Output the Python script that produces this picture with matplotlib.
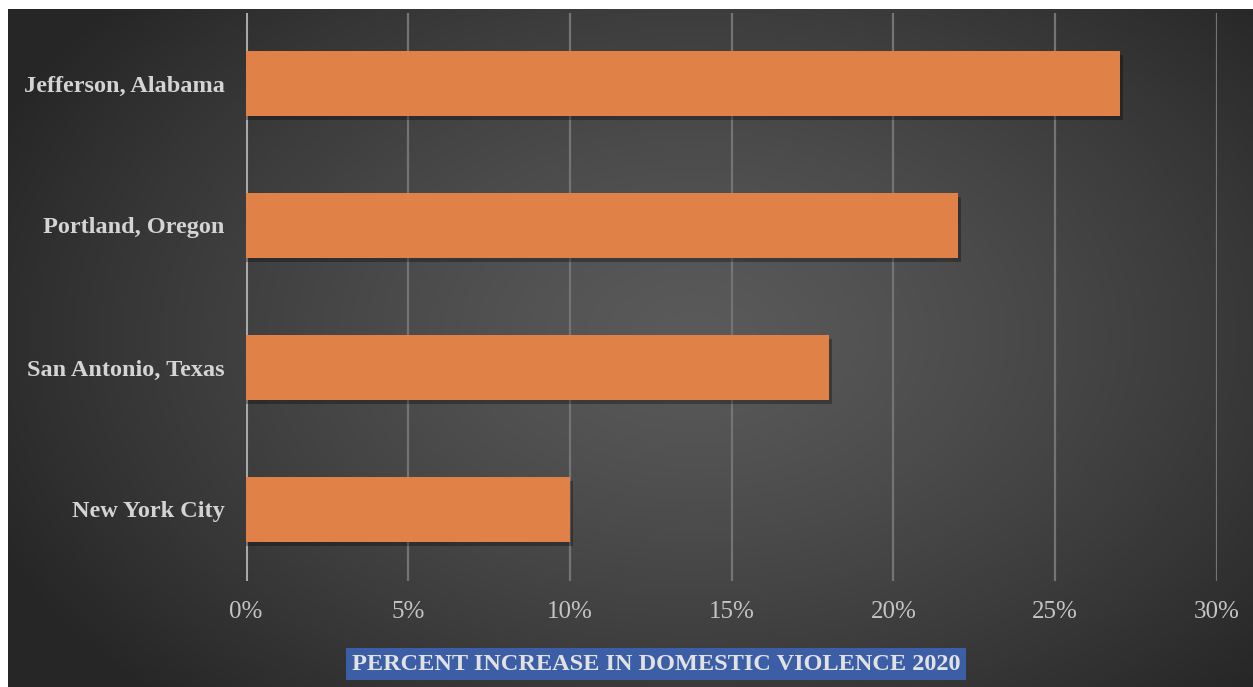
import numpy as np
import matplotlib
matplotlib.use("Agg")
import matplotlib.pyplot as plt
from matplotlib.patches import Rectangle
from matplotlib.ticker import FuncFormatter

categories = ["Jefferson, Alabama", "Portland, Oregon", "San Antonio, Texas", "New York City"]
values = [27, 22, 18, 10]
xticks = [0, 5, 10, 15, 20, 25, 30]
title = "PERCENT INCREASE IN DOMESTIC VIOLENCE 2020"

W, H = 1253, 687
fig = plt.figure(figsize=(W / 100, H / 100), dpi=100)
fig.patch.set_facecolor("white")

# background radial gradient
bg = fig.add_axes([8 / W, 0, 1 - 8 / W, 1 - 9 / H])
bg.set_axis_off()
ny, nx = 300, 600
yy, xx = np.mgrid[0:ny, 0:nx]
cx, cy = 0.55 * nx, 0.48 * ny
d = np.sqrt(((xx - cx) / (0.62 * nx)) ** 2 + ((yy - cy) / (0.75 * ny)) ** 2)
d = np.clip(d, 0, 1)
inner, outer = 0x5a / 255, 0x26 / 255
g = inner + (outer - inner) * d ** 1.3
img = np.dstack([g, g, g])
bg.imshow(img, aspect="auto", extent=[0, 1, 0, 1], interpolation="bilinear")
bg.set_xlim(0, 1)
bg.set_ylim(0, 1)

ax = fig.add_axes([246 / W, 1 - 580.5 / H, (1217 - 246) / W, (580.5 - 12.5) / H])
ax.patch.set_alpha(0)
ypos = np.arange(len(categories))
# shadows
for y, v in zip(ypos, values):
    ax.add_patch(Rectangle((0.0, y - 0.23 + 0.03), v + 0.1, 0.46, color="black",
                           alpha=0.3, zorder=2, linewidth=0))
ax.barh(ypos, values, height=0.46, color="#e08248", zorder=3)
ax.set_ylim(len(categories) - 0.5, -0.5)
ax.set_xlim(0, 30)
ax.set_xticks(xticks)
ax.xaxis.set_major_formatter(FuncFormatter(lambda v, p: f"{int(v)}%"))
ax.set_yticks(ypos)
ax.set_yticklabels(categories)
for s in ax.spines.values():
    s.set_visible(False)
ax.tick_params(axis="both", length=0)
ax.tick_params(axis="x", pad=15)
ax.tick_params(axis="y", pad=15.5)
for lbl in ax.get_xticklabels():
    lbl.set_fontfamily("Liberation Serif")
    lbl.set_fontsize(18)
    lbl.set_color("#c4c4c4")
for lbl in ax.get_yticklabels():
    lbl.set_fontfamily("Liberation Serif")
    lbl.set_fontweight("bold")
    lbl.set_fontsize(17.5)
    lbl.set_color("#d4d4d4")
for xv in xticks:
    ax.axvline(xv, color="#a8a8a8" if xv == 0 else "#747474", lw=2.2 if xv == 0 else 1.6, zorder=1)

fig.text(656 / W, 1 - 664 / H, title, ha="center", va="center",
         fontfamily="Liberation Serif", fontweight="bold", fontsize=17.5, color="#e2e2e2",
         bbox=dict(boxstyle="square,pad=0.22", facecolor="#3b5ea6", edgecolor="none"))

fig.savefig("out.png", dpi=100, facecolor=fig.get_facecolor())
